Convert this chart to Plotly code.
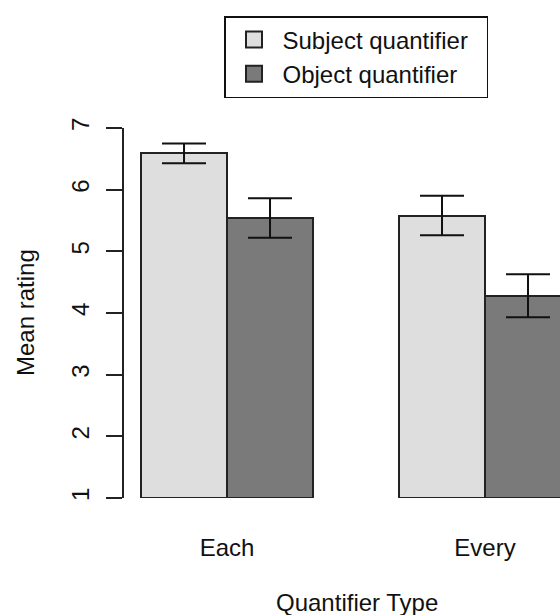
import plotly.graph_objects as go

categories = ["Each", "Every"]
series_names = ["Subject quantifier", "Object quantifier"]
subject_means = [6.59, 5.58]
object_means = [5.54, 4.28]
subject_err = [0.16, 0.32]
object_err = [0.32, 0.35]
y_ticks = [1, 2, 3, 4, 5, 6, 7]

fills = ["#DEDEDE", "#7A7A7A"]
FONT = "Liberation Sans, Arial, sans-serif"
FS = 24
BASE = 1

# R barplot(beside=TRUE, space=c(0,1)) geometry: bar width 1, one-bar gap between groups
n_series = 2
group_start = [1 + g * (n_series + 1) for g in range(len(categories))]
group_center = [s + n_series / 2 for s in group_start]

fig = go.Figure()
for i, (name, means, errs) in enumerate(
    [(series_names[0], subject_means, subject_err), (series_names[1], object_means, object_err)]
):
    xs = [s + i + 0.5 for s in group_start]
    fig.add_trace(go.Bar(
        x=xs, y=[m - BASE for m in means], base=BASE, width=1, name=name,
        marker=dict(color=fills[i], line=dict(color="#222222", width=2)),
        error_y=dict(type="data", array=errs, color="#111111", thickness=2, width=22),
        showlegend=False,
    ))
# legend keys (R-style filled squares); trailing no-break spaces give R-like right padding
for i, name in enumerate(series_names):
    fig.add_trace(go.Scatter(
        x=[None], y=[None], mode="markers", name=name + "\u00a0\u00a0",
        marker=dict(symbol="square", size=16, color=fills[i], line=dict(color="#222222", width=2)),
    ))

fig.update_layout(
    width=560, height=615,
    margin=dict(l=124, r=0, t=128, b=117),
    plot_bgcolor="white", paper_bgcolor="white",
    font=dict(family=FONT, size=FS, color="#111111"),
    showlegend=True,
    legend=dict(
        x=(224 - 124) / 436, y=(498 - 16) / 370, xanchor="left", yanchor="top",
        bordercolor="#111111", borderwidth=1.5, bgcolor="white",
        font=dict(size=FS, family=FONT), tracegroupgap=0, itemwidth=47,
    ),
    bargap=0,
)
fig.update_xaxes(
    range=[0.802, 5.872], tickvals=group_center, ticktext=categories,
    showline=False, showgrid=False, zeroline=False, ticks="",
    ticklabelstandoff=33, tickfont=dict(size=FS),
)
fig.update_yaxes(
    range=[1, 7], tickvals=y_ticks, showgrid=False, zeroline=False,
    showline=True, linecolor="#222222", linewidth=2,
    ticks="outside", ticklen=16, tickwidth=2, tickcolor="#222222",
    tickangle=-90, ticklabelstandoff=7, tickfont=dict(size=FS),
)
fig.add_annotation(text="Mean rating", textangle=-90, xref="paper", yref="paper",
                   x=(25 - 124) / 436, y=(498 - 313) / 370, xanchor="center", yanchor="middle",
                   showarrow=False, font=dict(size=FS))
fig.add_annotation(text="Quantifier Type", xref="paper", yref="paper",
                   x=(357 - 124) / 436, y=(498 - 602) / 370, xanchor="center", yanchor="middle",
                   showarrow=False, font=dict(size=FS))

fig.write_html("out.html", config={"displayModeBar": False},
               post_script="document.body.style.margin='0';document.body.style.overflow='hidden';")
